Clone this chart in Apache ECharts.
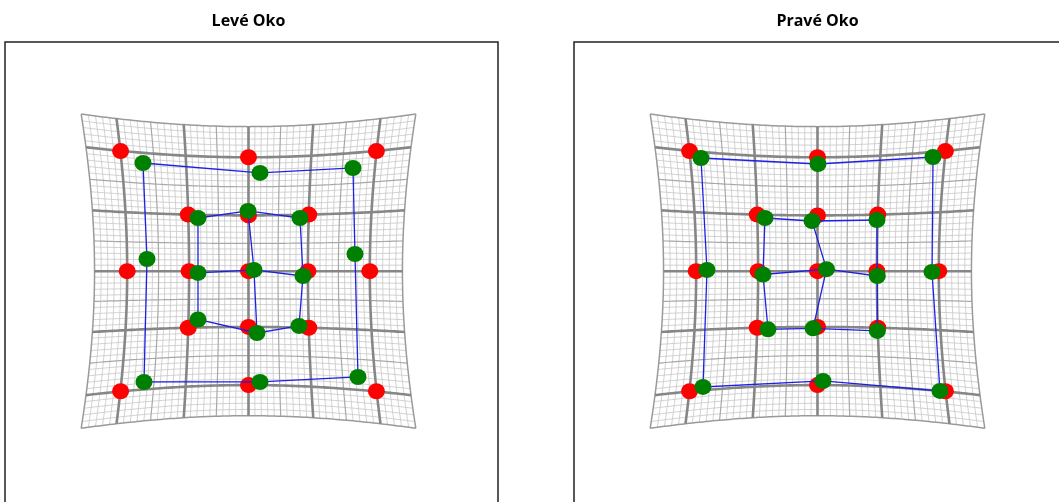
<!DOCTYPE html>
<html>
<head>
<meta charset="utf-8">
<title>Levé Oko / Pravé Oko</title>
<script src="https://cdn.jsdelivr.net/npm/echarts@6/dist/echarts.min.js"></script>
<style>
  html, body { margin: 0; padding: 0; background: #ffffff; }
  #chart { width: 1059px; height: 502px; }
</style>
</head>
<body>
<div id="chart"></div>
<script>
// Panel titles
const panelTitles = ['Levé Oko', 'Pravé Oko'];

// Target points (red). Outer ring order: TL, TM, TR, MR, BR, BM, BL, ML
const targetOuterX = [-2.168, 0, 2.168, 2.056, 2.168, 0, -2.168, -2.056];
const targetOuterY = [2.168, 2.056, 2.168, 0, -2.168, -2.056, -2.168, 0];
// Inner 3x3 block, row by row: TL, TM, TR, ML, C, MR, BL, BM, BR
const targetInnerX = [-1.021, 0, 1.021, -1.007, 0, 1.007, -1.021, 0, 1.021];
const targetInnerY = [1.021, 1.007, 1.021, 0, 0, 0, -1.021, -1.007, -1.021];

// Measured points (green), left eye
const leftOuterX = [-1.788, 0.195, 1.771, 1.805, 1.856, 0.195, -1.771, -1.720];
const leftOuterY = [1.953, 1.773, 1.863, 0.310, -1.910, -2.000, -2.000, 0.220];
const leftInnerX = [-0.856, -0.008, 0.873, -0.856, 0.093, 0.924, -0.856, 0.144, 0.856];
const leftInnerY = [0.960, 1.087, 0.960, -0.032, 0.022, -0.087, -0.872, -1.116, -0.989];

// Measured points (green), right eye
const rightOuterX = [-1.975, 0.008, 1.958, 1.941, 2.076, 0.093, -1.941, -1.873];
const rightOuterY = [2.043, 1.935, 2.061, -0.014, -2.162, -1.982, -2.090, 0.022];
const rightInnerX = [-0.890, -0.093, 1.008, -0.924, 0.153, 1.014, -0.839, -0.076, 1.014];
const rightInnerY = [0.960, 0.906, 0.924, -0.060, 0.036, -0.087, -1.049, -1.031, -1.079];

// Distorted grid: extent, and spacing of line classes
const GRID_HALF = 2.5;
const FINE_STEP = 0.1;

// Pincushion lens applied to the background grid
function lens(u, v) {
  return [u * (1 + 0.007 * u * u + 0.0145 * v * v),
          v * (1 + 0.007 * v * v + 0.0145 * u * u)];
}

function gridLine(isVertical, c) {
  const pts = [];
  for (let i = 0; i <= 100; i++) {
    const t = -GRID_HALF + (2 * GRID_HALF) * i / 100;
    pts.push(isVertical ? lens(c, t) : lens(t, c));
  }
  return { coords: pts };
}

// Split the grid positions into classes: fine (0.1), medium (0.5), major (1), edge
const fineLines = [], mediumLines = [], majorLines = [], edgeLines = [];
const nSteps = Math.round(2 * GRID_HALF / FINE_STEP);
for (let i = 0; i <= nSteps; i++) {
  const c = Math.round((-GRID_HALF + i * FINE_STEP) * 10) / 10;
  const tenth = Math.round(c * 10);
  let bucket;
  if (Math.abs(c) === GRID_HALF) bucket = edgeLines;
  else if (tenth % 10 === 0) bucket = majorLines;
  else if (tenth % 5 === 0) bucket = mediumLines;
  else bucket = fineLines;
  bucket.push(gridLine(true, c), gridLine(false, c));
}

function pts(xs, ys) { return xs.map((x, i) => [x, ys[i]]); }

function connections(outer, inner) {
  const ring = outer.concat([outer[0]]);
  const rows = [[0, 1, 2], [3, 4, 5], [6, 7, 8]];
  const cols = [[0, 3, 6], [1, 4, 7], [2, 5, 8]];
  const out = [{ coords: ring }];
  rows.concat(cols).forEach(idx => out.push({ coords: idx.map(k => inner[k]) }));
  return out;
}

const eyes = [
  { outerX: leftOuterX, outerY: leftOuterY, innerX: leftInnerX, innerY: leftInnerY },
  { outerX: rightOuterX, outerY: rightOuterY, innerX: rightInnerX, innerY: rightInnerY }
];

const panelLeft = [5, 574];
const panelCenter = [248.5, 817.5];

const grids = [], xAxes = [], yAxes = [], series = [], titles = [];

eyes.forEach((eye, p) => {
  grids.push({
    left: panelLeft[p], top: 42, width: 493, height: 486,
    outerBoundsMode: 'none', containLabel: false,
    show: true, borderColor: '#222222', borderWidth: 1.5,
    backgroundColor: 'transparent'
  });
  xAxes.push({ gridIndex: p, type: 'value', min: -4.127, max: 4.229, show: false });
  yAxes.push({ gridIndex: p, type: 'value', min: -4.636, max: 4.137, show: false });

  titles.push({
    text: panelTitles[p],
    left: panelCenter[p] - 5,
    top: 8,
    textAlign: 'center',
    textStyle: { fontFamily: 'Open Sans', fontSize: 16, fontWeight: 'bold', color: '#000000' }
  });

  const meshStyles = [
    [fineLines, '#c6c6c6', 0.8, 1],
    [mediumLines, '#a8a8a8', 1.2, 2],
    [edgeLines, '#9a9a9a', 1.5, 3],
    [majorLines, '#868686', 2.6, 4]
  ];
  meshStyles.forEach(([data, color, width, z]) => {
    series.push({
      type: 'lines', coordinateSystem: 'cartesian2d', polyline: true,
      xAxisIndex: p, yAxisIndex: p, silent: true, z: z,
      lineStyle: { color: color, width: width, opacity: 1 },
      data: data
    });
  });

  const outerG = pts(eye.outerX, eye.outerY);
  const innerG = pts(eye.innerX, eye.innerY);

  series.push({
    type: 'scatter', xAxisIndex: p, yAxisIndex: p, z: 5, silent: true,
    symbolSize: [17, 16], itemStyle: { color: '#ff0000', opacity: 1 },
    data: pts(targetOuterX, targetOuterY).concat(pts(targetInnerX, targetInnerY))
  });
  series.push({
    type: 'lines', coordinateSystem: 'cartesian2d', polyline: true,
    xAxisIndex: p, yAxisIndex: p, silent: true, z: 6,
    lineStyle: { color: '#1f1fe6', width: 1.3, opacity: 1 },
    data: connections(outerG, innerG)
  });
  series.push({
    type: 'scatter', xAxisIndex: p, yAxisIndex: p, z: 7, silent: true,
    symbolSize: [17, 16], itemStyle: { color: '#008000', opacity: 1 },
    data: outerG.concat(innerG)
  });
});

const chart = echarts.init(document.getElementById('chart'), null, { renderer: 'canvas' });
chart.setOption({
  animation: false,
  backgroundColor: '#ffffff',
  title: titles,
  grid: grids,
  xAxis: xAxes,
  yAxis: yAxes,
  tooltip: { show: false },
  series: series
});
</script>
</body>
</html>
